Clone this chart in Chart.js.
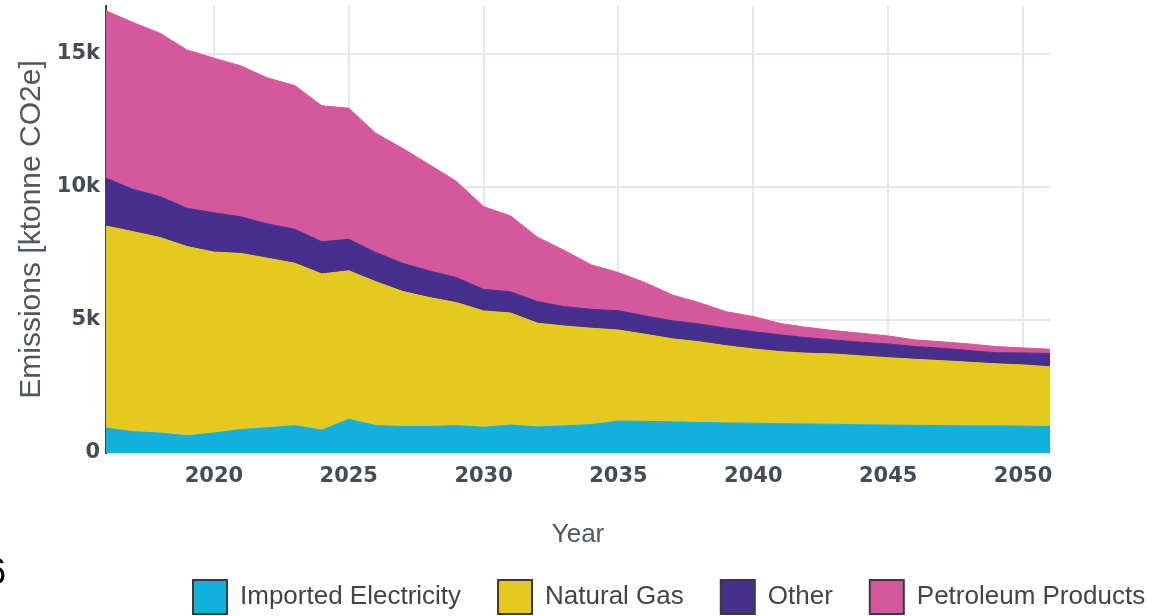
<!DOCTYPE html>
<html lang="en">
<head>
    <meta charset="UTF-8">
    <title>Emissions by fuel</title>
    <script src="https://cdn.jsdelivr.net/npm/chart.js"></script>
    <style>
        body { margin: 0; background: #fff; }
        #wrap { position: relative; width: 1171px; height: 616px; overflow: hidden; }
        #stray { position: absolute; left: -14px; top: 554px; font: 36px/36px "Liberation Sans", Arial, sans-serif; color: #000; }
    </style>
</head>
<body>
<div id="wrap">
    <canvas id="chart"></canvas>
    <div id="stray">6</div>
</div>

<script>
// years on the x axis
const years = [2016, 2017, 2018, 2019, 2020, 2021, 2022, 2023, 2024, 2025, 2026, 2027,
               2028, 2029, 2030, 2031, 2032, 2033, 2034, 2035, 2036, 2037, 2038, 2039,
               2040, 2041, 2042, 2043, 2044, 2045, 2046, 2047, 2048, 2049, 2050, 2051];

// emissions in ktonne CO2e
const importedElectricity = [940, 800, 750, 650, 750, 880, 950, 1030, 860, 1270, 1030, 1000,
                             1000, 1030, 970, 1050, 980, 1020, 1070, 1200, 1190, 1170, 1150, 1130,
                             1120, 1100, 1090, 1080, 1060, 1050, 1040, 1030, 1020, 1020, 1010, 1000];
const naturalGas = [7590, 7520, 7350, 7110, 6800, 6620, 6370, 6100, 5870, 5580, 5410, 5070,
                    4840, 4620, 4370, 4210, 3900, 3750, 3620, 3420, 3270, 3120, 3030, 2900,
                    2790, 2710, 2660, 2640, 2590, 2530, 2480, 2440, 2390, 2330, 2300, 2240];
const other = [1800, 1590, 1540, 1440, 1480, 1380, 1290, 1280, 1210, 1180, 1100, 1060,
               1000, 940, 810, 800, 810, 730, 710, 730, 690, 680, 670, 660,
               650, 630, 580, 530, 510, 520, 480, 470, 440, 420, 450, 500];
const petroleumProducts = [6290, 6270, 6140, 5950, 5810, 5670, 5480, 5400, 5110, 4930, 4480, 4320,
                           3990, 3610, 3110, 2850, 2420, 2110, 1670, 1430, 1250, 970, 800, 620,
                           570, 430, 390, 350, 340, 300, 250, 240, 250, 230, 190, 160];

const seriesNames = ["Imported Electricity", "Natural Gas", "Other", "Petroleum Products"];
const seriesColors = ["#12b1db", "#e5c91e", "#472f8e", "#d5579c"];

const xTicks = [2020, 2025, 2030, 2035, 2040, 2045, 2050];
const yTicks = [0, 5000, 10000, 15000];
const yTickLabels = ["0", "5k", "10k", "15k"];

const allSeries = [importedElectricity, naturalGas, other, petroleumProducts];

const datasets = allSeries.map((values, i) => ({
    label: seriesNames[i],
    data: values.map((v, j) => ({ x: years[j], y: v })),
    backgroundColor: seriesColors[i],
    borderColor: seriesColors[i],
    borderWidth: 1,
    pointRadius: 0,
    tension: 0,
    fill: i === 0 ? "origin" : "-1"
}));

// put the legend where the original one sits
const legendPlacer = {
    id: "legendPlacer",
    afterLayout(chart) {
        const lg = chart.legend;
        const pad = lg.options.labels.padding;
        lg.left = 193 - pad;
        lg.right = 1400;
        lg.top = 580 - pad;
    }
};

const tickFont = { family: "'DejaVu Sans', Verdana, sans-serif", size: 21, weight: "bold" };
const titleFont = { family: "'Liberation Sans', Arial, sans-serif", size: 26 };

new Chart(document.getElementById("chart"), {
    type: "line",
    data: { datasets: datasets },
    options: {
        responsive: true,
        maintainAspectRatio: false,
        animation: false,
        layout: { padding: { left: 0, right: 121, top: 6, bottom: 0 } },
        plugins: {
            tooltip: { enabled: false },
            legend: {
                position: "bottom",
                align: "start",
                maxHeight: 65,
                labels: {
                    boxWidth: 34,
                    boxHeight: 34,
                    padding: 37,
                    color: "#444",
                    font: { family: "'Liberation Sans', Arial, sans-serif", size: 26 },
                    generateLabels(chart) {
                        const items = Chart.defaults.plugins.legend.labels.generateLabels(chart);
                        items.forEach(it => { it.strokeStyle = "#3a3a3a"; it.lineWidth = 2; });
                        return items;
                    }
                }
            }
        },
        scales: {
            x: {
                type: "linear",
                min: 2016,
                max: 2051,
                afterBuildTicks: scale => { scale.ticks = xTicks.map(v => ({ value: v })); },
                afterFit: scale => {
                    scale.height = 98;
                    scale.paddingLeft = 0;
                    scale.paddingRight = 0;
                },
                ticks: {
                    color: "#464b57",
                    font: tickFont,
                    padding: 11,
                    maxRotation: 0,
                    callback: v => String(v)
                },
                grid: { color: "#e4e7ef", lineWidth: 2, drawTicks: false },
                border: { display: false },
                title: {
                    display: true,
                    text: "Year",
                    color: "#505662",
                    font: titleFont,
                    padding: { top: 0, bottom: 1 }
                }
            },
            y: {
                stacked: true,
                min: 0,
                max: 16800,
                afterBuildTicks: scale => { scale.ticks = yTicks.map(v => ({ value: v })); },
                afterFit: scale => {
                    scale.width = 106;
                    scale.paddingTop = 0;
                    scale.paddingBottom = 0;
                },
                ticks: {
                    color: "#464b57",
                    font: tickFont,
                    padding: 6,
                    callback: v => yTickLabels[yTicks.indexOf(v)]
                },
                grid: { color: "#e4e7ef", lineWidth: 2, drawTicks: false },
                border: { display: true, color: "#444", width: 2 },
                title: {
                    display: true,
                    text: "Emissions [ktonne CO2e]",
                    color: "#505662",
                    font: { family: "'Liberation Sans', Arial, sans-serif", size: 30 },
                    padding: { top: 14, bottom: 0 }
                }
            }
        }
    },
    plugins: [legendPlacer]
});
</script>
</body>
</html>
